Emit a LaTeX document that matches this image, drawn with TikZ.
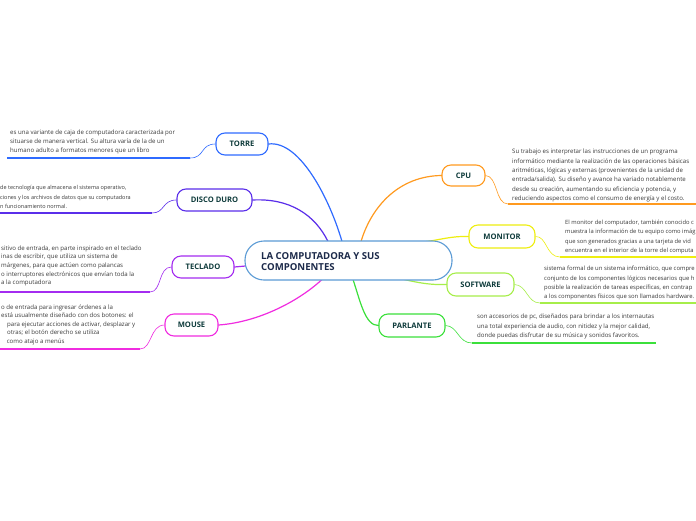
\documentclass[tikz,border=0pt]{standalone}
\usepackage{fontspec}
\setmainfont{Open Sans}
\usetikzlibrary{backgrounds}
\definecolor{txt}{HTML}{3A3A3A}
\definecolor{ntxt}{HTML}{0E3B3B}
\definecolor{ctxt}{HTML}{1C2A4A}
\definecolor{cblue}{HTML}{5B9BD5}
\definecolor{ctorre}{HTML}{2F6BFF}
\definecolor{cdisco}{HTML}{5A2EEA}
\definecolor{ctecl}{HTML}{A42CF0}
\definecolor{cmouse}{HTML}{F02CE0}
\definecolor{ccpu}{HTML}{FF9A1F}
\definecolor{cmon}{HTML}{EEEE10}
\definecolor{csoft}{HTML}{A6EE4A}
\definecolor{cparl}{HTML}{3BE03B}
\tikzset{
  topic/.style={draw, line width=1.1pt, fill=white, rounded corners=9pt,
    minimum height=22pt, inner sep=0pt, font=\fontsize{7.6}{8}\selectfont\bfseries, text=ntxt},
  desc/.style={anchor=north west, align=left, inner sep=0pt, text=txt,
    font=\fontsize{6.1}{9.3}\selectfont},
  branch/.style={line width=1.2pt, line cap=round},
  leaf/.style={line width=0.6pt},
  uline/.style={line width=1.3pt}
}
\begin{document}
\begin{tikzpicture}[x=1pt,y=-1pt]
\useasboundingbox (0,0) rectangle (696,520);
\clip (0,0) rectangle (696,520);

% central
\node[draw=cblue, line width=1.1pt, fill=white, rounded corners=19pt,
  minimum width=207pt, minimum height=39pt, inner sep=0pt] (c) at (348.5,260.5) {};
\node[anchor=west, align=left, text=ctxt, inner sep=0pt,
  font=\fontsize{9.6}{11.5}\selectfont\bfseries] (ct) at (261,261.5)
  {LA COMPUTADORA Y SUS\\COMPONENTES};

% topics
\node[topic, draw=ctorre, minimum width=52pt] (torre) at (242,144) {TORRE};
\node[topic, draw=cdisco, minimum width=75pt] (disco) at (214.5,200) {DISCO DURO};
\node[topic, draw=ctecl, minimum width=62pt] (tecl) at (203,267) {TECLADO};
\node[topic, draw=cmouse, minimum width=53pt] (mouse) at (191.5,325) {MOUSE};
\node[topic, draw=ccpu, minimum width=43pt, minimum height=21pt] (cpu) at (463.5,175.5) {CPU};
\node[topic, draw=cmon, minimum width=66pt, minimum height=23pt] (mon) at (502,236.5) {MONITOR};
\node[topic, draw=csoft, minimum width=67pt, minimum height=23pt] (soft) at (480.5,284.5) {SOFTWARE};
\node[topic, draw=cparl, minimum width=66pt, minimum height=23pt] (parl) at (412,325.5) {PARLANTE};

% descriptions
\node[desc] (dtorre) at (10,129.5) {es una variante de caja de computadora caracterizada por\\situarse de manera vertical. Su altura varía de la de un\\humano adulto a formatos menores que un libro};
\node[desc, font=\fontsize{5.5}{9.3}\selectfont] (ddisco) at (0,185.5) {de tecnología que almacena el sistema operativo,\\ciones y los archivos de datos que su computadora\\n funcionamiento normal.};
\node[desc, font=\fontsize{6.1}{8.6}\selectfont] (dtecl) at (1,245.5) {sitivo de entrada, en parte inspirado en el teclado\\inas de escribir, que utiliza un sistema de\\márgenes, para que actúen como palancas\\o interruptores electrónicos que envían toda la\\a la computadora};
\node[desc, font=\fontsize{6.1}{8.5}\selectfont] (dmouse) at (1,304.5) {o de entrada para ingresar órdenes a la\\está usualmente diseñado con dos botones: el\\\hspace*{6pt}para ejecutar acciones de activar, desplazar y\\\hspace*{6pt}otras; el botón derecho se utiliza\\\hspace*{4pt} como atajo a menús};
\node[desc] (dcpu) at (512,149) {Su trabajo es interpretar las instrucciones de un programa\\informático mediante la realización de las operaciones básicas\\aritméticas, lógicas y externas (provenientes de la unidad de\\entrada/salida). Su diseño y avance ha variado notablemente\\desde su creación, aumentando su eficiencia y potencia, y\\reduciendo aspectos como el consumo de energía y el costo.};
\node[desc, font=\fontsize{5.8}{9.3}\selectfont] (dmon) at (565,220) {El monitor del computador, también conocido c\\muestra la información de tu equipo como imág\\que son generados gracias a una tarjeta de vid\\encuentra en el interior de la torre del computa};
\node[desc, font=\fontsize{5.9}{9.3}\selectfont] (dsoft) at (544,266) {sistema formal de un sistema informático, que compre\\conjunto de los componentes lógicos necesarios que h\\posible la realización de tareas específicas, en contrap\\a los componentes físicos que son llamados hardware.};
\node[desc] (dparl) at (477,314) {son accesorios de pc, diseñados para brindar a los internautas\\una total experiencia de audio, con nitidez y la mejor calidad,\\donde puedas disfrutar de su música y sonidos favoritos.};

% underline coordinates
\coordinate (utA) at (7,158);   \coordinate (utB) at (190,158);
\coordinate (udA) at (0,213);   \coordinate (udB) at (152,213);
\coordinate (ukA) at (0,292);   \coordinate (ukB) at (150,292);
\coordinate (umA) at (0,349);   \coordinate (umB) at (140,349);
\coordinate (ucA) at (508,204); \coordinate (ucB) at (696,204);
\coordinate (unA) at (560,257); \coordinate (unB) at (696,257);
\coordinate (usA) at (540,303); \coordinate (usB) at (696,303);
\coordinate (upA) at (472,343); \coordinate (upB) at (656,343);

% branch end points on the central node
\coordinate (bT) at (342,241.5);
\coordinate (bD) at (328,241.5);
\coordinate (bK) at (245.5,266);
\coordinate (bM) at (322,279.5);
\coordinate (bC) at (361,241.5);
\coordinate (bN) at (423,242);
\coordinate (bS) at (404,279.5);
\coordinate (bP) at (353,279.5);

\begin{scope}[on background layer]
\fill[white] (0,0) rectangle (696,520);
% underlines
\draw[uline, ctorre] (utA) -- (utB);
\draw[uline, cdisco] (udA) -- (udB);
\draw[uline, ctecl] (ukA) -- (ukB);
\draw[uline, cmouse] (umA) -- (umB);
\draw[uline, ccpu] (ucA) -- (ucB);
\draw[uline, cmon] (unA) -- (unB);
\draw[uline, csoft] (usA) -- (usB);
\draw[uline, cparl] (upA) -- (upB);
% leaf connectors
\draw[leaf, ctorre] (utB) .. controls (205,158) and (200,144) .. (torre.west);
\draw[leaf, cdisco] (udB) .. controls (165,213) and (162,200) .. (disco.west);
\draw[leaf, ctecl] (ukB) .. controls (162,292) and (158,267) .. (tecl.west);
\draw[leaf, cmouse] (umB) .. controls (152,349) and (150,325) .. (mouse.west);
\draw[leaf, ccpu] (cpu.east) .. controls (498,176) and (495,204) .. (ucA);
\draw[leaf, cmon] (mon.east) .. controls (547,236) and (546,257) .. (unA);
\draw[leaf, csoft] (soft.east) .. controls (527,285) and (527,303) .. (usA);
\draw[leaf, cparl] (parl.east) .. controls (458,326) and (458,343) .. (upA);
% branches
\draw[branch, ctorre] (torre.east) .. controls (300,140) and (330,200) .. (bT);
\draw[branch, cdisco] (disco.east) .. controls (290,198) and (315,215) .. (bD);
\draw[branch, ctecl] (tecl.east) -- (bK);
\draw[branch, cmouse] (mouse.east) .. controls (260,322) and (300,300) .. (bM);
\draw[branch, ccpu] (cpu.west) .. controls (400,176) and (372,205) .. (bC);
\draw[branch, cmon] (mon.west) .. controls (450,236) and (440,240) .. (bN);
\draw[branch, csoft] (soft.west) .. controls (430,285) and (420,283) .. (bS);
\draw[branch, cparl] (parl.west) .. controls (365,326) and (360,300) .. (bP);
\end{scope}
\end{tikzpicture}
\end{document}
